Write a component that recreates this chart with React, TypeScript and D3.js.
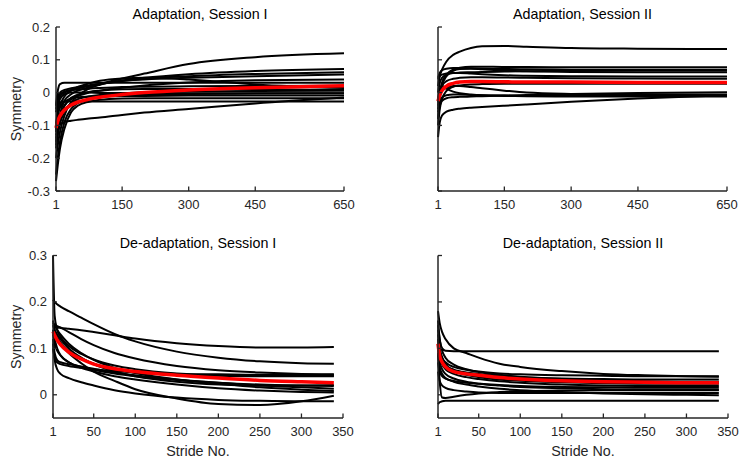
import React from "react";
import * as d3 from "d3";

// ---------- data ----------
const strideTop = [1, 5, 10, 20, 35, 50, 75, 100, 150, 200, 300, 450, 650];
const strideBottom = [1, 3, 6, 10, 20, 35, 50, 75, 100, 150, 200, 250, 300, 339];

const xTicksTop = [1, 150, 300, 450, 650];
const xTicksBottom = [1, 50, 100, 150, 200, 250, 300, 350];
const yTicksTop = [-0.3, -0.2, -0.1, 0, 0.1, 0.2];
const yTickLabelsTop = ["-0.3", "-0.2", "-0.1", "0", "0.1", "0.2"];
const yTicksBottom = [0, 0.1, 0.2, 0.3];
const yTickLabelsBottom = ["0", "0.1", "0.2", "0.3"];

const titles = [
  "Adaptation, Session I",
  "Adaptation, Session II",
  "De-adaptation, Session I",
  "De-adaptation, Session II",
];

const adaptS1Subjects = [
  [-0.06, -0.03, -0.012, 0.0, 0.008, 0.013, 0.02, 0.027, 0.043, 0.058, 0.087, 0.108, 0.12],
  [-0.15, -0.1, -0.065, -0.025, -0.005, 0.006, 0.016, 0.025, 0.037, 0.045, 0.056, 0.066, 0.072],
  [-0.04, -0.01, 0.0, 0.008, 0.013, 0.017, 0.022, 0.027, 0.035, 0.042, 0.05, 0.057, 0.062],
  [-0.2, -0.16, -0.12, -0.07, -0.03, -0.01, 0.012, 0.024, 0.036, 0.04, 0.045, 0.05, 0.055],
  [-0.04, 0.005, 0.026, 0.03, 0.03, 0.03, 0.03, 0.03, 0.03, 0.03, 0.03, 0.03, 0.03],
  [-0.12, -0.07, -0.04, -0.012, 0.006, 0.017, 0.028, 0.036, 0.043, 0.045, 0.04, 0.025, 0.014],
  [-0.17, -0.13, -0.095, -0.058, -0.032, -0.02, -0.012, -0.007, -0.002, 0.001, 0.003, 0.005, 0.006],
  [-0.25, -0.2, -0.15, -0.09, -0.05, -0.032, -0.02, -0.014, -0.009, -0.006, -0.004, -0.003, -0.002],
  [-0.1, -0.065, -0.045, -0.028, -0.018, -0.014, -0.012, -0.011, -0.01, -0.01, -0.009, -0.009, -0.009],
  [-0.27, -0.22, -0.17, -0.11, -0.06, -0.04, -0.028, -0.022, -0.018, -0.017, -0.017, -0.017, -0.017],
  [-0.12, -0.06, -0.03, -0.027, -0.027, -0.027, -0.027, -0.027, -0.027, -0.027, -0.027, -0.027, -0.027],
  [-0.14, -0.11, -0.097, -0.09, -0.086, -0.083, -0.079, -0.076, -0.068, -0.061, -0.05, -0.033, -0.015],
  [-0.05, -0.02, -0.005, 0.003, 0.007, 0.009, 0.012, 0.014, 0.017, 0.018, 0.019, 0.02, 0.021],
  [-0.13, -0.1, -0.072, -0.04, -0.02, -0.01, 0.0, 0.006, 0.015, 0.022, 0.031, 0.038, 0.04],
  [-0.16, -0.12, -0.08, -0.04, -0.016, -0.006, 0.002, 0.006, 0.01, 0.011, 0.011, 0.01, 0.008],
  [-0.11, -0.05, -0.02, -0.005, 0.0, 0.0, 0.0, -0.001, -0.001, -0.002, -0.002, -0.002, -0.002],
];
const adaptS1Mean = [-0.108, -0.087, -0.071, -0.053, -0.038, -0.029, -0.02, -0.014, -0.006, 0.0, 0.008, 0.015, 0.021];

const adaptS2Subjects = [
  [0.02, 0.05, 0.07, 0.095, 0.115, 0.125, 0.136, 0.141, 0.142, 0.14, 0.136, 0.134, 0.133],
  [-0.05, 0.0, 0.03, 0.055, 0.07, 0.076, 0.079, 0.079, 0.078, 0.078, 0.077, 0.077, 0.077],
  [0.045, 0.06, 0.068, 0.073, 0.075, 0.075, 0.074, 0.073, 0.072, 0.071, 0.07, 0.07, 0.07],
  [-0.08, -0.02, 0.02, 0.05, 0.066, 0.072, 0.073, 0.071, 0.067, 0.065, 0.063, 0.062, 0.062],
  [0.0, 0.03, 0.045, 0.055, 0.06, 0.06, 0.058, 0.056, 0.053, 0.051, 0.05, 0.049, 0.049],
  [-0.03, 0.0, 0.02, 0.035, 0.042, 0.045, 0.047, 0.047, 0.046, 0.045, 0.044, 0.043, 0.042],
  [-0.1, -0.05, -0.02, 0.005, 0.018, 0.022, 0.025, 0.026, 0.027, 0.027, 0.027, 0.027, 0.027],
  [-0.04, -0.01, 0.005, 0.015, 0.02, 0.02, 0.017, 0.013, 0.006, 0.0, -0.004, -0.006, -0.006],
  [-0.08, -0.04, -0.025, -0.017, -0.014, -0.013, -0.012, -0.011, -0.009, -0.007, -0.004, -0.001, 0.001],
  [-0.06, -0.03, -0.015, -0.008, -0.006, -0.006, -0.007, -0.008, -0.01, -0.011, -0.012, -0.012, -0.012],
  [-0.136, -0.09, -0.07, -0.058, -0.052, -0.049, -0.046, -0.044, -0.04, -0.036, -0.028, -0.018, -0.008],
  [-0.02, 0.01, 0.02, 0.012, 0.003, -0.002, -0.006, -0.008, -0.009, -0.01, -0.01, -0.01, -0.01],
  [0.04, 0.05, 0.055, 0.058, 0.06, 0.061, 0.062, 0.063, 0.064, 0.065, 0.066, 0.067, 0.067],
];
const adaptS2Mean = [-0.026, -0.008, 0.006, 0.02, 0.028, 0.032, 0.034, 0.034, 0.033, 0.032, 0.032, 0.031, 0.031];

const deadaptS1Subjects = [
  [0.3, 0.17, 0.14, 0.125, 0.105, 0.088, 0.076, 0.063, 0.055, 0.046, 0.042, 0.041, 0.041, 0.041],
  [0.205, 0.2, 0.195, 0.19, 0.18, 0.166, 0.152, 0.131, 0.115, 0.093, 0.08, 0.072, 0.068, 0.067],
  [0.147, 0.146, 0.145, 0.144, 0.142, 0.139, 0.135, 0.128, 0.121, 0.111, 0.105, 0.102, 0.102, 0.103],
  [0.15, 0.15, 0.148, 0.145, 0.135, 0.12, 0.107, 0.09, 0.078, 0.062, 0.053, 0.048, 0.045, 0.044],
  [0.16, 0.14, 0.125, 0.113, 0.095, 0.078, 0.067, 0.055, 0.048, 0.043, 0.041, 0.04, 0.04, 0.04],
  [0.14, 0.13, 0.12, 0.11, 0.09, 0.068, 0.05, 0.03, 0.012, -0.008, -0.02, -0.022, -0.014, -0.002],
  [0.11, 0.075, 0.055, 0.045, 0.036, 0.027, 0.02, 0.01, 0.003, -0.006, -0.011, -0.013, -0.014, -0.014],
  [0.12, 0.09, 0.075, 0.07, 0.066, 0.061, 0.056, 0.048, 0.042, 0.033, 0.026, 0.02, 0.016, 0.013],
  [0.14, 0.12, 0.1, 0.085, 0.07, 0.06, 0.054, 0.046, 0.04, 0.032, 0.026, 0.022, 0.02, 0.019],
  [0.155, 0.15, 0.14, 0.13, 0.11, 0.09, 0.075, 0.058, 0.047, 0.033, 0.024, 0.016, 0.011, 0.008],
  [0.1, 0.08, 0.07, 0.066, 0.062, 0.058, 0.055, 0.051, 0.048, 0.045, 0.044, 0.043, 0.043, 0.043],
  [0.13, 0.11, 0.095, 0.085, 0.07, 0.058, 0.05, 0.04, 0.033, 0.022, 0.014, 0.009, 0.006, 0.005],
  [0.15, 0.14, 0.13, 0.12, 0.1, 0.08, 0.066, 0.05, 0.04, 0.028, 0.022, 0.02, 0.02, 0.021],
];
const deadaptS1Mean = [0.136, 0.128, 0.118, 0.108, 0.092, 0.077, 0.066, 0.056, 0.05, 0.042, 0.036, 0.031, 0.028, 0.026];

const deadaptS2Subjects = [
  [0.16, 0.12, 0.1, 0.095, 0.094, 0.094, 0.094, 0.094, 0.094, 0.094, 0.094, 0.094, 0.094, 0.094],
  [0.18, 0.155, 0.135, 0.12, 0.1, 0.09, 0.08, 0.067, 0.06, 0.051, 0.045, 0.042, 0.04, 0.039],
  [-0.02, -0.016, -0.014, -0.013, -0.013, -0.013, -0.013, -0.013, -0.013, -0.013, -0.013, -0.013, -0.013, -0.013],
  [0.09, 0.03, -0.006, -0.007, -0.004, 0.0, 0.003, 0.006, 0.008, 0.009, 0.01, 0.01, 0.01, 0.01],
  [0.14, 0.1, 0.08, 0.07, 0.06, 0.054, 0.05, 0.046, 0.044, 0.042, 0.041, 0.04, 0.04, 0.04],
  [0.12, 0.085, 0.07, 0.062, 0.054, 0.048, 0.045, 0.041, 0.038, 0.035, 0.034, 0.033, 0.033, 0.033],
  [0.11, 0.08, 0.065, 0.055, 0.045, 0.038, 0.034, 0.029, 0.026, 0.022, 0.02, 0.019, 0.019, 0.019],
  [0.1, 0.07, 0.055, 0.045, 0.035, 0.028, 0.024, 0.02, 0.017, 0.014, 0.012, 0.011, 0.011, 0.011],
  [0.09, 0.06, 0.045, 0.036, 0.028, 0.022, 0.018, 0.013, 0.01, 0.006, 0.003, 0.001, 0.0, -0.001],
  [0.13, 0.1, 0.08, 0.066, 0.052, 0.043, 0.038, 0.033, 0.03, 0.027, 0.025, 0.024, 0.024, 0.024],
  [0.07, 0.05, 0.04, 0.035, 0.03, 0.026, 0.024, 0.021, 0.019, 0.017, 0.016, 0.015, 0.015, 0.015],
  [0.15, 0.12, 0.095, 0.08, 0.065, 0.055, 0.049, 0.043, 0.039, 0.034, 0.031, 0.029, 0.028, 0.028],
  [0.05, 0.03, 0.02, 0.015, 0.01, 0.007, 0.005, 0.004, 0.004, 0.004, 0.004, 0.004, 0.004, 0.004],
];
const deadaptS2Mean = [0.11, 0.084, 0.07, 0.06, 0.05, 0.045, 0.042, 0.037, 0.034, 0.03, 0.028, 0.027, 0.026, 0.026];

// ---------- drawing ----------
const FONT = "'Liberation Sans', Arial, Helvetica, sans-serif";
const AX = "#262626";

type PanelProps = {
  x0: number; x1: number; yTop: number; yBot: number;
  xDomain: [number, number]; yDomain: [number, number];
  xTicks: number[]; yTicks: number[]; yLabels: string[] | null;
  strides: number[]; subjects: number[][]; mean: number[];
  title: string; showYLabel: boolean; showXLabel: boolean;
};

function Panel(p: PanelProps) {
  const x = d3.scaleLinear().domain(p.xDomain).range([p.x0, p.x1]);
  const y = d3.scaleLinear().domain(p.yDomain).range([p.yBot, p.yTop]);
  const line = d3
    .line<number>()
    .x((_, i) => x(p.strides[i]))
    .y((d) => y(d))
    .curve(d3.curveMonotoneX);
  const cx = (p.x0 + p.x1) / 2;
  const cy = (p.yTop + p.yBot) / 2;
  return (
    <g>
      <g>
        {p.subjects.map((s, i) => (
          <path key={i} d={line(s) || ""} fill="none" stroke="#000" strokeWidth={2} strokeLinejoin="round" />
        ))}
        <path d={line(p.mean) || ""} fill="none" stroke="#ff0000" strokeWidth={3.5} strokeLinejoin="round" />
      </g>
      <line x1={p.x0} x2={p.x1} y1={p.yBot} y2={p.yBot} stroke={AX} strokeWidth={1.5} />
      <line x1={p.x0} x2={p.x0} y1={p.yTop} y2={p.yBot} stroke={AX} strokeWidth={1.5} />
      {p.xTicks.map((t) => (
        <g key={"xt" + t}>
          <line x1={x(t)} x2={x(t)} y1={p.yBot} y2={p.yBot - 4.5} stroke={AX} strokeWidth={1.3} />
          <text x={x(t)} y={p.yBot + 18} textAnchor="middle" fontSize={13} fontFamily={FONT} fill={AX}>
            {t}
          </text>
        </g>
      ))}
      {p.yTicks.map((t, i) => (
        <g key={"yt" + t}>
          <line x1={p.x0} x2={p.x0 + 4} y1={y(t)} y2={y(t)} stroke={AX} strokeWidth={1.3} />
          {p.yLabels && (
            <text x={p.x0 - 6} y={y(t)} dy="0.35em" textAnchor="end" fontSize={13} fontFamily={FONT} fill={AX}>
              {p.yLabels[i]}
            </text>
          )}
        </g>
      ))}
      <text x={cx} y={p.yTop - 8} textAnchor="middle" fontSize={14.3} fontFamily={FONT} fill="#000">
        {p.title}
      </text>
      {p.showYLabel && (
        <text transform={`translate(20.5,${cy}) rotate(-90)`} textAnchor="middle" fontSize={14.3} fontFamily={FONT} fill={AX}>
          Symmetry
        </text>
      )}
      {p.showXLabel && (
        <text x={cx} y={p.yBot + 38} textAnchor="middle" fontSize={14.3} fontFamily={FONT} fill={AX}>
          Stride No.
        </text>
      )}
    </g>
  );
}

export default function App() {
  return (
    <div style={{ position: "fixed", left: 0, top: 0 }}>
      <svg width={746} height={466} style={{ display: "block", background: "#fff" }}>
        <Panel x0={56} x1={344} yTop={27} yBot={191} xDomain={[1, 650]} yDomain={[-0.3, 0.2]}
          xTicks={xTicksTop} yTicks={yTicksTop} yLabels={yTickLabelsTop}
          strides={strideTop} subjects={adaptS1Subjects} mean={adaptS1Mean}
          title={titles[0]} showYLabel={true} showXLabel={false} />
        <Panel x0={438} x1={727} yTop={27} yBot={191} xDomain={[1, 650]} yDomain={[-0.3, 0.2]}
          xTicks={xTicksTop} yTicks={yTicksTop} yLabels={null}
          strides={strideTop} subjects={adaptS2Subjects} mean={adaptS2Mean}
          title={titles[1]} showYLabel={false} showXLabel={false} />
        <Panel x0={53} x1={343} yTop={255.5} yBot={418} xDomain={[1, 350]} yDomain={[-0.05, 0.3]}
          xTicks={xTicksBottom} yTicks={yTicksBottom} yLabels={yTickLabelsBottom}
          strides={strideBottom} subjects={deadaptS1Subjects} mean={deadaptS1Mean}
          title={titles[2]} showYLabel={true} showXLabel={true} />
        <Panel x0={438} x1={728} yTop={255.5} yBot={418} xDomain={[1, 350]} yDomain={[-0.05, 0.3]}
          xTicks={xTicksBottom} yTicks={yTicksBottom} yLabels={null}
          strides={strideBottom} subjects={deadaptS2Subjects} mean={deadaptS2Mean}
          title={titles[3]} showYLabel={false} showXLabel={true} />
      </svg>
    </div>
  );
}
